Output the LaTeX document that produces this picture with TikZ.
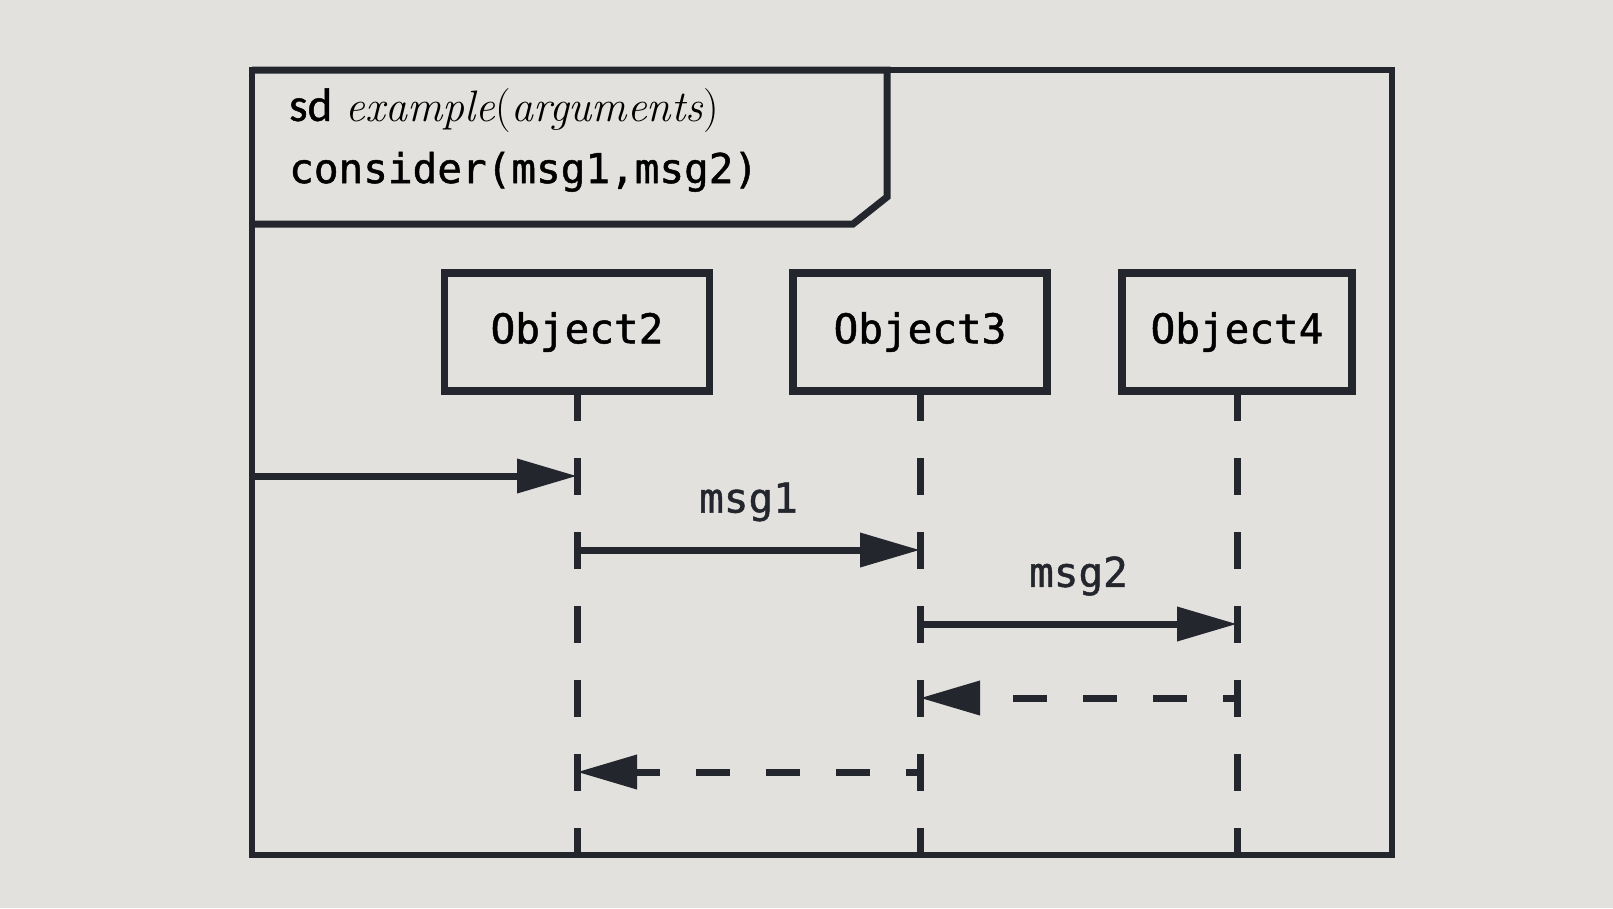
\documentclass[tikz,border=0pt]{standalone}
\usepackage{fontspec}
\usetikzlibrary{arrows.meta}
\newfontfamily\monofont[FakeBold=1.2]{DejaVu Sans Mono}
\newfontfamily\sdfont[FakeBold=1]{Carlito}
\definecolor{inkDark}{RGB}{36, 38, 46}
\definecolor{paperGray}{RGB}{226, 225, 222}

\begin{document}
\begin{tikzpicture}[x=1pt, y=-1pt,
    objbox/.style={draw=inkDark, line width=7.5pt, minimum height=118pt, outer sep=0pt, font=\monofont\fontsize{41}{48}\selectfont},
    lifeline/.style={inkDark, line width=7pt, dash pattern=on 37pt off 37pt, dash phase=7pt},
    call/.style={inkDark, line width=7pt, -{Triangle[length=60pt, width=33pt]}},
    reply/.style={call, dash pattern=on 34pt off 36pt, dash phase=20pt},
    msglabel/.style={midway, yshift=48pt, font=\monofont\fontsize{41}{48}\selectfont}]
  \fill[paperGray] (0,0) rectangle (1613,908);
  % frame and its name tab
  \node[draw=inkDark, line width=5.5pt, minimum width=1140pt, minimum height=785pt, anchor=north west, outer sep=0pt] (frame) at (252,70) {};
  \draw[inkDark, line width=7pt] (frame.north west) -- (887,70) -- (887,197) -- (853,224) -- (frame.west |- 0,224);
  \node[anchor=base west, inner sep=0pt, font=\fontsize{44}{52}\selectfont] (sdname) at (289,121) {{\sdfont\fontsize{47}{52}\selectfont sd} \textit{example}(\textit{arguments})};
  \node[anchor=base west, inner sep=0pt, font=\monofont\fontsize{41}{48}\selectfont] (consider) at (289,183) {consider(msg1,msg2)};
  % objects
  \node[objbox, minimum width=265pt] (o2) at (577,332) {Object2};
  \node[objbox, minimum width=254pt] (o3) at (920,332) {Object3};
  \node[objbox, minimum width=230pt] (o4) at (1237,332) {Object4};
  \foreach \o in {o2,o3,o4}
    \draw[lifeline] (\o.south) -- (\o |- frame.south);
  % message rows
  \coordinate (r1) at (0,476);
  \coordinate (r2) at (0,550);
  \coordinate (r3) at (0,624);
  \coordinate (r4) at (0,698);
  \coordinate (r5) at (0,772);
  \draw[call] (frame.west |- r1) -- (o2 |- r1);
  \draw[call] (o2 |- r2) -- node[msglabel] (m1) {msg1} (o3 |- r2);
  \draw[call] (o3 |- r3) -- node[msglabel] (m2) {msg2} (o4 |- r3);
  \draw[reply] (o4 |- r4) -- (o3 |- r4);
  \draw[reply] (o3 |- r5) -- (o2 |- r5);
\end{tikzpicture}
\end{document}
